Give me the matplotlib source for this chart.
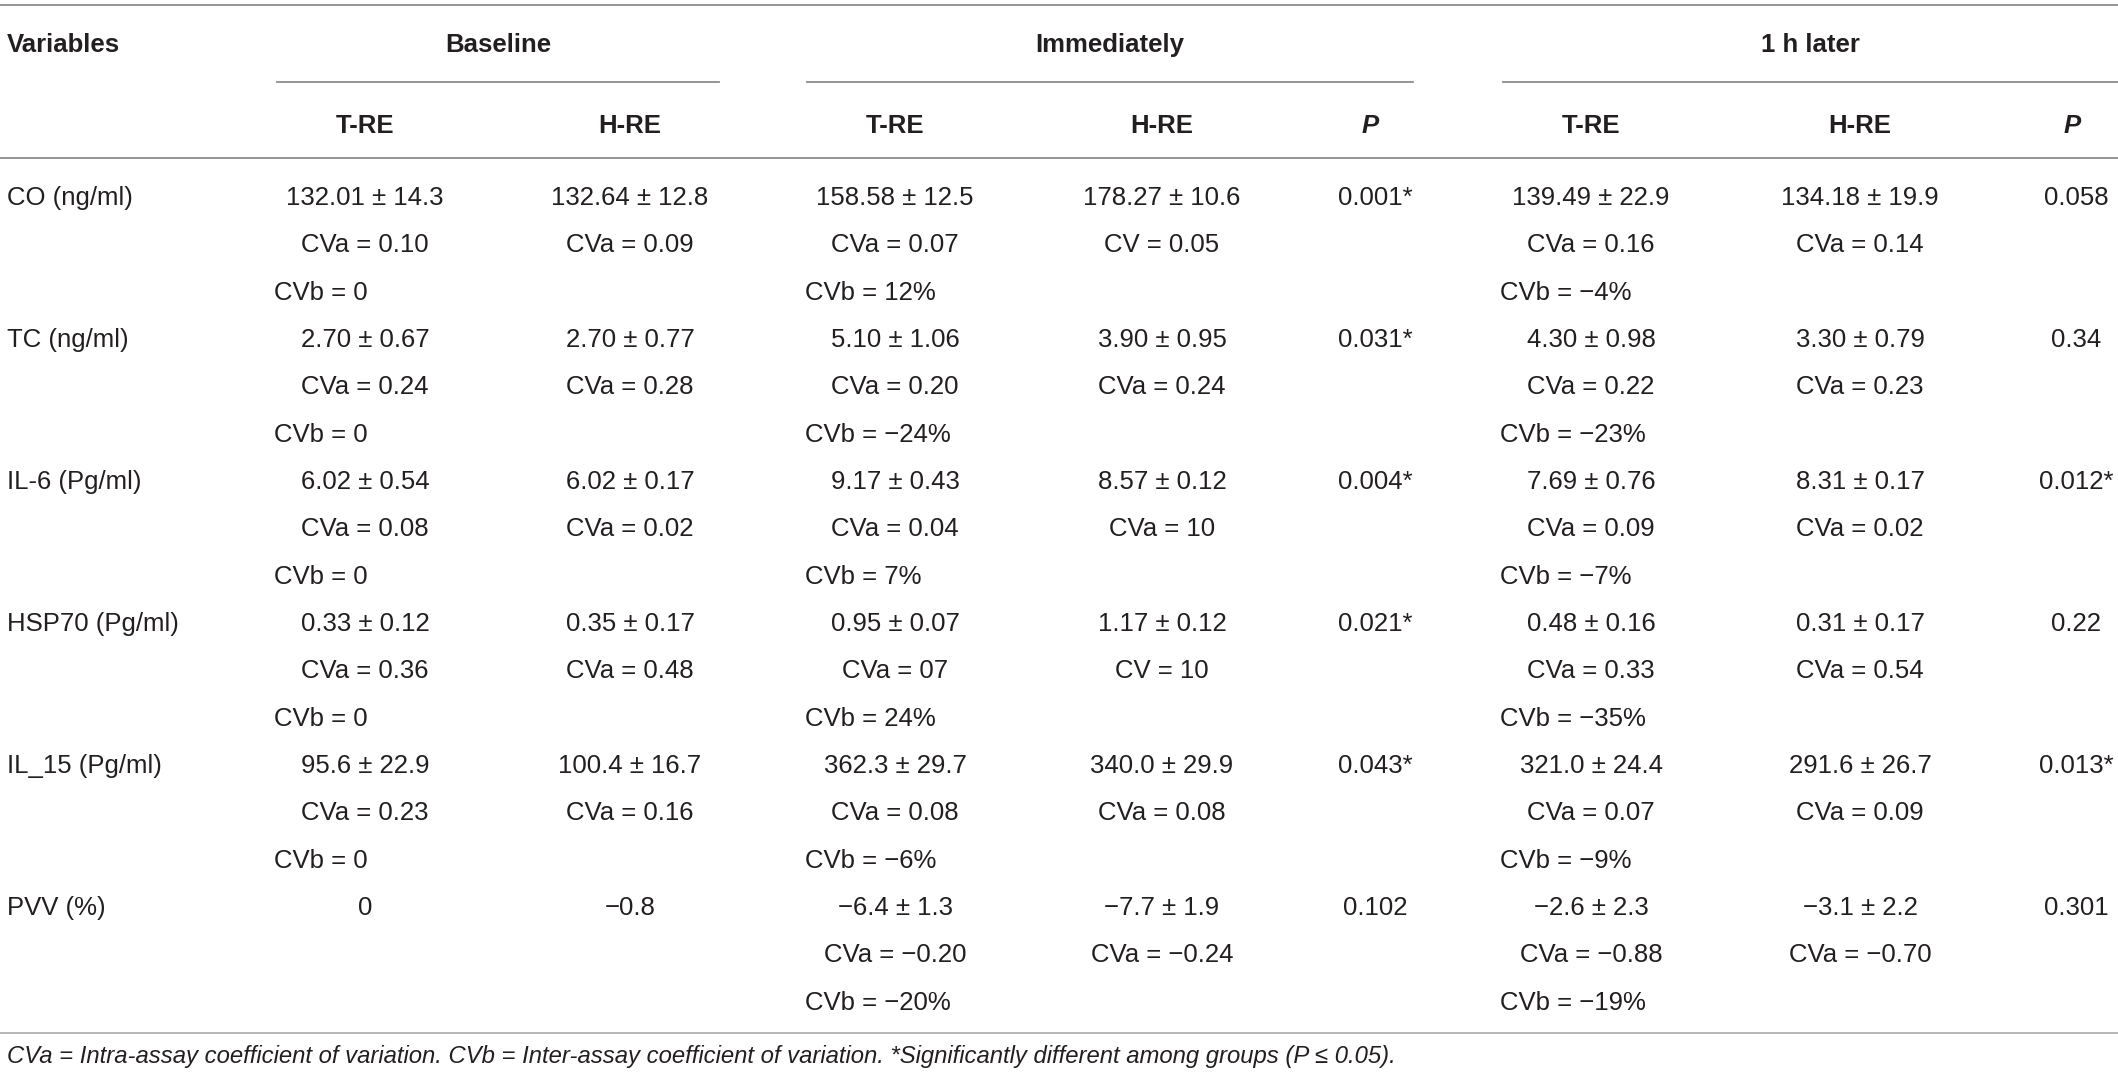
import matplotlib
matplotlib.use("Agg")
import matplotlib.pyplot as plt

plt.rcParams['font.family'] = ['Liberation Sans', 'DejaVu Sans']

# table content
variables = ["CO (ng/ml)", "TC (ng/ml)", "IL-6 (Pg/ml)", "HSP70 (Pg/ml)", "IL_15 (Pg/ml)", "PVV (%)"]
groups = ["Baseline", "Immediately", "1 h later"]

base_t = ["132.01 ± 14.3", "2.70 ± 0.67", "6.02 ± 0.54", "0.33 ± 0.12", "95.6 ± 22.9", "0"]
base_t_cva = ["CVa = 0.10", "CVa = 0.24", "CVa = 0.08", "CVa = 0.36", "CVa = 0.23", ""]
base_t_cvb = ["CVb = 0", "CVb = 0", "CVb = 0", "CVb = 0", "CVb = 0", ""]
base_h = ["132.64 ± 12.8", "2.70 ± 0.77", "6.02 ± 0.17", "0.35 ± 0.17", "100.4 ± 16.7", "−0.8"]
base_h_cva = ["CVa = 0.09", "CVa = 0.28", "CVa = 0.02", "CVa = 0.48", "CVa = 0.16", ""]

imm_t = ["158.58 ± 12.5", "5.10 ± 1.06", "9.17 ± 0.43", "0.95 ± 0.07", "362.3 ± 29.7", "−6.4 ± 1.3"]
imm_t_cva = ["CVa = 0.07", "CVa = 0.20", "CVa = 0.04", "CVa = 07", "CVa = 0.08", "CVa = −0.20"]
imm_t_cvb = ["CVb = 12%", "CVb = −24%", "CVb = 7%", "CVb = 24%", "CVb = −6%", "CVb = −20%"]
imm_h = ["178.27 ± 10.6", "3.90 ± 0.95", "8.57 ± 0.12", "1.17 ± 0.12", "340.0 ± 29.9", "−7.7 ± 1.9"]
imm_h_cva = ["CV = 0.05", "CVa = 0.24", "CVa = 10", "CV = 10", "CVa = 0.08", "CVa = −0.24"]
imm_p = ["0.001*", "0.031*", "0.004*", "0.021*", "0.043*", "0.102"]

late_t = ["139.49 ± 22.9", "4.30 ± 0.98", "7.69 ± 0.76", "0.48 ± 0.16", "321.0 ± 24.4", "−2.6 ± 2.3"]
late_t_cva = ["CVa = 0.16", "CVa = 0.22", "CVa = 0.09", "CVa = 0.33", "CVa = 0.07", "CVa = −0.88"]
late_t_cvb = ["CVb = −4%", "CVb = −23%", "CVb = −7%", "CVb = −35%", "CVb = −9%", "CVb = −19%"]
late_h = ["134.18 ± 19.9", "3.30 ± 0.79", "8.31 ± 0.17", "0.31 ± 0.17", "291.6 ± 26.7", "−3.1 ± 2.2"]
late_h_cva = ["CVa = 0.14", "CVa = 0.23", "CVa = 0.02", "CVa = 0.54", "CVa = 0.09", "CVa = −0.70"]
late_p = ["0.058", "0.34", "0.012*", "0.22", "0.013*", "0.301"]

footnote = ("CVa = Intra-assay coefficient of variation. CVb = Inter-assay coefficient of variation. "
            "*Significantly different among groups (P ≤ 0.05).")

W, H = 2118, 1083
fig = plt.figure(figsize=(W / 100, H / 100), dpi=100)
ax = fig.add_axes([0, 0, 1, 1])
ax.set_xlim(0, W)
ax.set_ylim(H, 0)
ax.axis('off')

txt = '#231f20'
rule = '#8c8c8c'
fs = 18.5

# horizontal rules
for y in (5, 158):
    ax.plot([0, W], [y, y], color=rule, lw=1.3)
ax.plot([0, W], [1033, 1033], color='#b0b0b0', lw=1.3)
spans = [(277, 719), (807, 1413), (1503, W)]
for (x0, x1) in spans:
    ax.plot([x0, x1], [82, 82], color=rule, lw=1.3)

# headers
ax.text(7, 52, "Variables", fontsize=fs, fontweight='bold', color=txt, va='baseline', ha='left')
for name, (x0, x1) in zip(groups, spans):
    ax.text((x0 + x1) / 2, 52, name, fontsize=fs, fontweight='bold', color=txt, va='baseline', ha='center')

col_x = [365, 630, 895, 1162, 1370, 1591, 1860, 2072]
sub = ["T-RE", "H-RE", "T-RE", "H-RE", "P", "T-RE", "H-RE", "P"]
for x, s in zip(col_x, sub):
    ax.text(x, 133, s, fontsize=fs, fontweight='bold', color=txt, va='baseline', ha='center',
            fontstyle='italic' if s == "P" else 'normal')

# body
step = 47.33
cols = [
    (365, base_t, base_t_cva, base_t_cvb, 274),
    (630, base_h, base_h_cva, None, None),
    (895, imm_t, imm_t_cva, imm_t_cvb, 805),
    (1162, imm_h, imm_h_cva, None, None),
    (1375, imm_p, None, None, None),
    (1591, late_t, late_t_cva, late_t_cvb, 1500),
    (1860, late_h, late_h_cva, None, None),
    (2076, late_p, None, None, None),
]
for i, var in enumerate(variables):
    yb = 205 + 3 * i * step
    ax.text(7, yb, var, fontsize=fs, color=txt, va='baseline', ha='left')
    for x, main, cva, cvb, cvb_x in cols:
        ax.text(x, yb, main[i], fontsize=fs, color=txt, va='baseline', ha='center')
        if cva is not None and cva[i]:
            ax.text(x, yb + step, cva[i], fontsize=fs, color=txt, va='baseline', ha='center')
        if cvb is not None and cvb[i]:
            ax.text(cvb_x, yb + 2 * step, cvb[i], fontsize=fs, color=txt, va='baseline', ha='left')

ax.text(7, 1063, footnote, fontsize=17.2, fontstyle='italic', color=txt, va='baseline', ha='left')

fig.savefig("out.png", dpi=100)
